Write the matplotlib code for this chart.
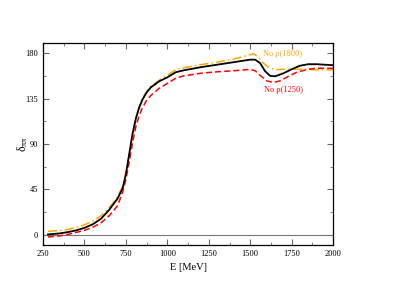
import matplotlib
matplotlib.use('Agg')
import matplotlib.pyplot as plt
from matplotlib.ticker import MultipleLocator

# данные (E в МэВ, фаза в градусах)
e_full = [280, 350, 400, 450, 500, 550, 600, 650, 700, 730, 750, 770, 790, 810, 830, 850, 875,
          900, 950, 1000, 1050, 1100, 1200, 1300, 1400, 1500, 1530, 1560, 1590, 1620, 1650,
          1700, 1750, 1800, 1850, 1900, 2000]
d_full = [0.5, 1.5, 2.8, 4.5, 7, 10.5, 16, 25, 36, 46, 60, 80, 100, 115, 126, 134, 141,
          146, 152, 156, 161, 163, 166, 168.5, 171, 173.5, 173.5, 170, 162, 157.5, 157,
          160, 164, 167.5, 169, 169, 168]

e_no1800 = [280, 350, 400, 450, 500, 550, 600, 650, 700, 730, 750, 770, 790, 810, 830, 850, 875,
            900, 950, 1000, 1050, 1100, 1200, 1300, 1400, 1500, 1520, 1550, 1580, 1610, 1650,
            1700, 1800, 1900, 2000]
d_no1800 = [3.5, 4.5, 5.5, 7.5, 10, 13.5, 19, 27, 38, 48, 61, 80, 100, 116, 127, 135, 142,
            147, 153, 158, 163.5, 165.5, 168.5, 171, 174, 178.5, 179.5, 176, 170, 166, 163.5,
            164, 164, 163.5, 163.5]

e_no1250 = [280, 350, 400, 450, 500, 550, 600, 650, 700, 730, 750, 770, 790, 810, 830, 850, 875,
            900, 950, 1000, 1050, 1100, 1200, 1300, 1400, 1500, 1530, 1560, 1600, 1640, 1680,
            1720, 1780, 1850, 1900, 2000]
d_no1250 = [-2, -1, 0.5, 2.5, 4.5, 7.5, 12, 19, 29, 42, 55, 72, 91, 107, 118, 126, 133,
            138, 145, 150, 155, 157.5, 160, 161.5, 162.5, 164, 162.5, 158, 152.5, 151, 152.5,
            156, 161, 164, 165, 165]

plt.rcParams['font.family'] = ['Liberation Serif', 'DejaVu Serif']
plt.rcParams['mathtext.fontset'] = 'custom'
plt.rcParams['mathtext.rm'] = 'Liberation Serif'
plt.rcParams['mathtext.it'] = 'Liberation Serif:italic'

fig = plt.figure(figsize=(3.98, 2.81), dpi=100)
ax = fig.add_axes([0.108, 0.128, 0.729, 0.719])

ax.axhline(0, color='#777777', lw=0.8)
ax.plot(e_no1800, d_no1800, color='#FFA500', lw=1.1, dashes=[6, 2, 1, 2])
ax.plot(e_no1250, d_no1250, color='#FF0000', lw=1.1, dashes=[4, 2])
ax.plot(e_full, d_full, color='black', lw=1.3)

ax.text(1578, 179, 'No ρ(1800)', color='#FFA500', fontsize=6, va='center')
ax.text(1585, 143.5, 'No ρ(1250)', color='#FF0000', fontsize=6, va='center')

ax.set_xlim(250, 2000)
ax.set_ylim(-10, 190)
ax.xaxis.set_major_locator(MultipleLocator(250))
ax.xaxis.set_minor_locator(MultipleLocator(125))
ax.yaxis.set_major_locator(MultipleLocator(45))
ax.yaxis.set_minor_locator(MultipleLocator(22.5))
ax.tick_params(which='both', direction='in', top=True, right=True, labelsize=6,
               color='#666666')
ax.tick_params(which='major', length=4)
ax.tick_params(which='minor', length=2)
for s in ax.spines.values():
    s.set_linewidth(0.9)

ax.set_xlabel('E [MeV]', fontsize=7.5)
ax.set_ylabel(r'$\mathrm{δ}_{\mathrm{ππ}}$', fontsize=8.5, labelpad=-3)

fig.savefig('out.png', dpi=100)
